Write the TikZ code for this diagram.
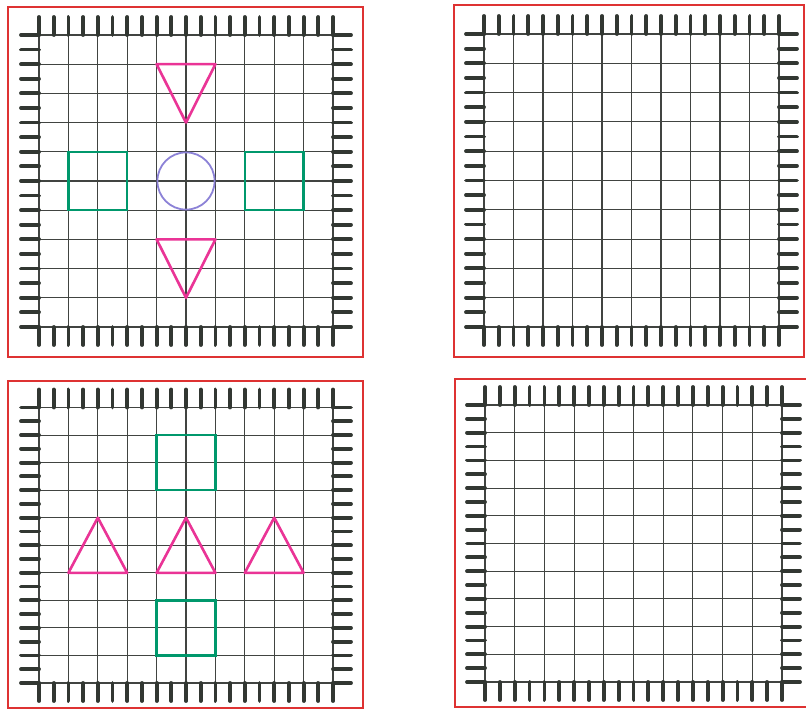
\documentclass[tikz,border=0pt]{standalone}
\definecolor{redb}{RGB}{222,50,50}
\definecolor{gridc}{RGB}{65,68,65}
\definecolor{barc}{RGB}{50,55,50}
\definecolor{pinkc}{RGB}{234,52,150}
\definecolor{greenc}{RGB}{0,152,108}
\definecolor{ringc}{RGB}{140,130,215}
\tikzset{
  redframe/.style={draw=redb, line width=2.2pt},
  gridline/.style={draw=gridc, line width=1.1pt},
  tickbar/.style={draw=barc, line width=3.8pt, line cap=round},
  pinkshape/.style={draw=pinkc, line width=2.6pt, line join=round},
  greenshape/.style={draw=greenc, line width=2.4pt},
  ringshape/.style={draw=ringc, line width=1.8pt},
  panelcs/.style n args={4}{xshift=#1pt, yshift=-#2pt, x={(#3pt,0pt)}, y={(0pt,-#4pt)}}
}
\newcommand\drawpanel[8]{%
  \draw[redframe] (#1,#2) rectangle (#3,#4);
  \begin{scope}[panelcs={#5}{#6}{#7}{#8}]
    \foreach \k in {0,...,10}{
      \draw[gridline] (\k,0) -- (\k,10);
      \draw[gridline] (0,\k) -- (10,\k);
    }
    \foreach \i in {0,...,20}{
      \draw[tickbar] (\i/2,0) -- ++(0pt,18pt);
      \draw[tickbar] (\i/2,10) -- ++(0pt,-18pt);
      \draw[tickbar] (0,\i/2) -- ++(-18pt,0pt);
      \draw[tickbar] (10,\i/2) -- ++(18pt,0pt);
    }
  \end{scope}
}
\begin{document}
\begin{tikzpicture}[x=1pt,y=-1pt]
\useasboundingbox (0,0) rectangle (806,711);
\fill[white] (0,0) rectangle (806,711);
% top-left
\drawpanel{8}{7}{363}{357}{39}{35}{29.4}{29.2}
\begin{scope}[panelcs={39}{35}{29.4}{29.2}]
  \draw[pinkshape] (4,1) -- (6,1) -- (5,3) -- cycle;
  \draw[pinkshape] (4,7) -- (6,7) -- (5,9) -- cycle;
  \draw[greenshape] (1,4) rectangle (3,6);
  \draw[greenshape] (7,4) rectangle (9,6);
  \draw[ringshape] (5,5) circle [radius=28.6pt];
\end{scope}
% top-right
\drawpanel{454}{5}{804}{357}{484}{34}{29.5}{29.3}
% bottom-left
\drawpanel{8}{381}{363}{708}{39}{407.5}{29.4}{27.55}
\begin{scope}[panelcs={39}{407.5}{29.4}{27.55}]
  \draw[greenshape] (4,1) rectangle (6,3);
  \draw[greenshape] (4,7) rectangle (6,9);
  \draw[pinkshape] (1,6) -- (3,6) -- (2,4) -- cycle;
  \draw[pinkshape] (4,6) -- (6,6) -- (5,4) -- cycle;
  \draw[pinkshape] (7,6) -- (9,6) -- (8,4) -- cycle;
\end{scope}
% bottom-right
\drawpanel{455}{379}{808}{707}{485}{405}{29.7}{27.7}
\end{tikzpicture}
\end{document}
